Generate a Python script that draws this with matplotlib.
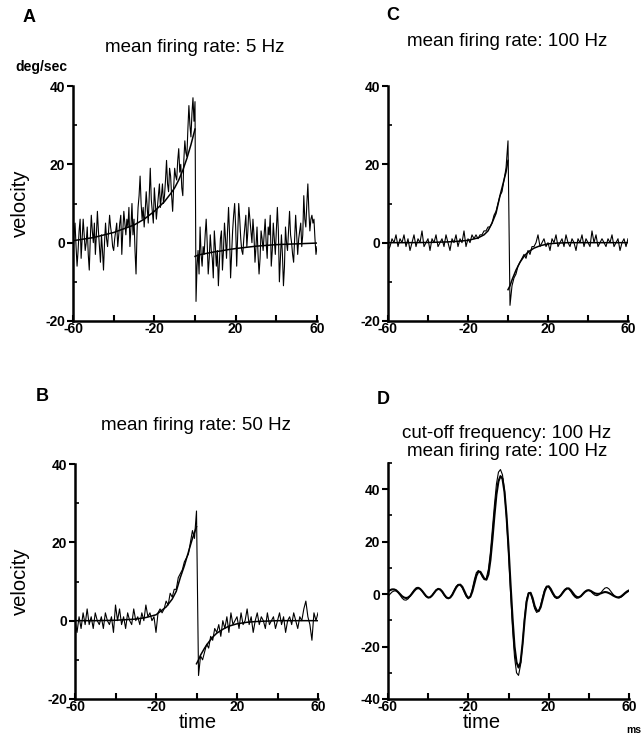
import matplotlib
matplotlib.use("Agg")
import matplotlib.pyplot as plt
from matplotlib.ticker import MultipleLocator, FixedLocator
import numpy as np

plt.rcParams['font.family'] = ['Liberation Sans', 'DejaVu Sans']
plt.rcParams['axes.unicode_minus'] = False

# time axis (ms) of the averages in B, C and D
time_ms = np.arange(-60, 61, 1)
# panel A is sampled twice as finely
time_a = np.arange(-60, 60.5, 0.5)

# panel A, mean firing rate 5 Hz
vel_a = [-3, 2, 5, -1, -6, -2, 3, 6, -4, 1, 6, 2, -2, 0, 4, -3, -7, 1, 7, 3,
         0, 5, -3, 2, 8, 3, -1, -5, 2, -2, -7, 0, 5, 1, -1, 3, 7, 4, 2, -1,
         -2, 1, 3, 5, -1, 2, 5, 7, -3, 3, 8, 5, 2, 6, 4, 9, -1, 4, 10, 2,
         6, -2, -8, 3, 9, 12, 17, 10, 6, 9, 4, 8, 13, 9, 5, 12, 19, 11, 8, 5,
         14, 10, 6, 9, 12, 15, 9, 12, 15, 10, 12, 16, 21, 15, 13, 19, 17, 12, 8, 14,
         19, 17, 16, 21, 24, 18, 20, 14, 12, 21, 26, 23, 22, 29, 35, 30, 27, 33, 37, 31,
         36,
         -15, -6, -2, -8, 4, -3, -6, -1, -3, 2, 6, 0, -8, -4, 2, -2, -4, -9, 3, -1,
         -6, -2, -11, -5, 1, 3, -7, -2, 5, 1, -4, 3, 9, 2, -9, -3, 3, 7, 10, 4,
         -6, 2, 10, 6, 1, -2, -3, 1, 4, 7, -1, 3, 9, 6, 3, 0, 6, 2, -5, -1,
         4, -3, -8, -4, 3, 1, -2, 2, 6, 0, -4, 4, 2, 7, -6, -2, 5, 1, -3, 3,
         9, 3, -10, -4, 2, -3, -11, -6, 4, 0, -2, 3, 8, 2, 0, -3, -5, 1, 7, 2,
         -3, 1, 3, 5, -1, 2, 12, 6, 4, 10, 15, 8, 3, 6, 7, 5, 6, 1, -3, -1]

# panel B, mean firing rate 50 Hz
vel_b = [0, -3, 1, -2, 2, -1, 3, -1, 1, -2, 2, 0, -1, 1, -2, 2, 0, -1, 1, -3,
         4, 0, 3, -1, 1, -2, 2, 0, -1, 3, 0, 1, -1, 2, 0, 4, 1, 2, 0, 1,
         -3, 2, 3, 2, 3, 5, 4, 7, 6, 8, 8, 11, 12, 13, 15, 16, 17, 20, 23, 21,
         28,
         -14, -9, -10, -8, -6, -7, -4, -5, -2, -3, -1, -4, 0, -2, 1, -3, 2, -1, 0, 1,
         -2, 2, -1, 0, 3, -1, 1, -3, 0, 2, -1, 1, 0, -2, 2, -1, 0, 1, -2, 0,
         2, -1, 1, -3, 0, 1, -1, 2, 0, -2, 1, 0, 3, 5, 1, -1, -5, 2, 0, 2]

# panel C, mean firing rate 100 Hz
vel_c = [-2, -1, 1, 0, 2, -1, 1, 0, 2, -1, 1, -2, 0, 2, -1, 1, 0, 3, -1, 0,
         1, -2, 1, 0, 2, -1, 0, 1, -1, 2, 0, -2, 1, 0, 2, -1, 1, 0, 3, -1,
         1, 0, 2, 1, 2, 1, 2, 2, 3, 3, 4, 4, 5, 7, 8, 10, 12, 13, 16, 19,
         26,
         -16, -11, -9, -8, -6, -5, -4, -3, -4, -2, -3, -1, -1, 0, 2, -1, 0, 1, -1, 0,
         -2, 1, 0, 2, -1, 0, 1, -1, 2, 0, -1, 1, 0, -2, 1, 0, 2, -1, 1, 0,
         -1, 3, 0, 2, -1, 0, 1, 0, -1, 1, 0, 2, -1, 0, 1, -2, 0, 1, -1, 1]

# fitted curves, before and after the spike
fit_t_pre = [-60, -50, -40, -30, -25, -20, -15, -12, -10, -8, -6, -4, -2, -1, 0]
fit_t_post = [0, 1, 2, 4, 6, 8, 10, 13, 16, 20, 25, 30, 40, 50, 60]
fit_a_pre = [0.5, 1.3, 2.6, 4.5, 6, 8, 10.5, 12.5, 14, 16, 18.5, 21.5, 25, 27, 29]
fit_a_post = [-3.5, -3.3, -3.1, -2.9, -2.7, -2.5, -2.3, -2.1, -1.8, -1.5, -1.2, -0.9, -0.5, -0.3, -0.1]
fit_b_pre = [0, 0, 0.1, 0.4, 0.8, 1.5, 3.5, 5.5, 7.5, 11, 14, 17.5, 21, 22.5, 24]
fit_b_post = [-11, -10, -8.8, -7, -5.5, -4.2, -3.2, -2.2, -1.4, -0.8, -0.4, -0.2, 0, 0, 0]
fit_c_pre = [0, 0, 0.05, 0.2, 0.35, 0.6, 1.2, 2, 3, 5, 7.5, 12, 16, 18, 21]
fit_c_post = [-12, -11, -9.5, -7, -5, -3.5, -2.4, -1.4, -0.8, -0.3, -0.1, 0, 0, 0, 0]

# panel D, low-pass filtered (100 Hz) stimulus and reconstruction
vel_d1 = [1.0, 1.5, 1.8, 1.8, 1.5, 0.8, 0.0, -0.8, -1.3, -1.5,
          -1.3, -0.7, 0.2, 1.2, 2.0, 2.3, 2.0, 1.2, 0.2, -0.8,
          -1.3, -1.2, -0.5, 0.5, 1.5, 2.0, 1.8, 1.0, -0.2, -1.2,
          -1.6, -1.3, -0.3, 1.2, 2.6, 3.5, 3.6, 2.8, 1.2, -0.5,
          -1.5, -1.0, 1.0, 4.0, 7.0, 8.6, 8.5, 7.2, 5.8, 5.5,
          7.5, 13, 21, 30, 38, 43, 45, 44, 39, 30,
          18,
          4, -9, -20, -26, -28, -26, -19, -10, -3, 0.3,
          0.5, -1.5, -4.5, -6.2, -6.5, -5, -2, 1, 2.8, 3,
          2, 0.5, -0.8, -1.3, -1.2, -0.5, 0.5, 1.5, 2.1, 2.2,
          1.5, 0.5, -0.5, -1.1, -1.2, -0.8, 0.0, 0.8, 1.3, 1.5,
          1.2, 0.7, 0.3, 0.1, 0.1, 0.3, 0.6, 0.8, 0.7, 0.4,
          0.0, -0.5, -0.9, -1.2, -1.2, -0.9, -0.3, 0.4, 1.0, 1.4]
vel_d2 = [-0.8, 0.0, 0.8, 1.2, 1.2, 0.6, -0.4, -1.5, -2.2, -2.3,
          -1.8, -0.8, 0.5, 1.6, 2.4, 2.6, 2.1, 1.1, 0.0, -0.9,
          -1.4, -1.2, -0.4, 0.7, 1.6, 2.0, 1.6, 0.7, -0.5, -1.4,
          -1.7, -1.2, 0.0, 1.6, 3.0, 3.7, 3.4, 2.3, 0.6, -1.0,
          -1.8, -0.8, 2.0, 5.5, 8.2, 9.0, 8.0, 6.5, 5.5, 6.2,
          9.5, 16, 25, 34, 42, 46.5, 47.5, 45.5, 39.5, 29,
          16,
          1, -13, -24, -30, -31, -27, -19, -9, -2, 0.5,
          0.2, -2.5, -5.5, -7.0, -6.5, -4.2, -1.0, 1.8, 3.0, 2.7,
          1.4, 0.0, -1.2, -1.7, -1.4, -0.5, 0.8, 1.8, 2.3, 2.0,
          1.0, -0.2, -1.1, -1.6, -1.4, -0.8, 0.2, 1.0, 1.5, 1.5,
          1.0, 0.2, -0.4, -0.6, -0.3, 0.5, 1.5, 2.3, 2.5, 2.0,
          1.0, 0.0, -0.8, -1.3, -1.5, -1.2, -0.6, 0.1, 0.7, 1.1]

x_ticks = [-60, -40, -20, 0, 20, 40, 60]
x_labels = ['-60', '', '-20', '', '20', '', '60']

W, H = 644, 740


def _px_axes(fig, left, top, right, bottom):
    return fig.add_axes([left / W, 1 - bottom / H, (right - left) / W, (bottom - top) / H])


def _style(ax, ylim, yticks):
    ax.set_xlim(-60, 60)
    ax.set_ylim(*ylim)
    for side in ('top', 'right'):
        ax.spines[side].set_visible(False)
    for side in ('left', 'bottom'):
        ax.spines[side].set_linewidth(1.8)
    ax.xaxis.set_major_locator(FixedLocator(x_ticks))
    ax.set_xticklabels(x_labels)
    ax.yaxis.set_major_locator(FixedLocator(yticks))
    ax.yaxis.set_minor_locator(MultipleLocator(10))
    ax.tick_params(axis='x', direction='in', length=4, width=1.5, pad=1,
                   labelsize=10)
    ax.tick_params(axis='y', which='major', direction='out', length=4, width=1.5,
                   pad=1.5, labelsize=10)
    ax.tick_params(axis='y', which='minor', direction='in', length=3, width=1.2)
    for lab in ax.get_xticklabels() + ax.get_yticklabels():
        lab.set_fontweight('bold')


def _noisy_panel(ax, t, vel, fit_pre, fit_post):
    ax.plot(t, vel, color='black', lw=0.8)
    ax.plot(fit_t_pre, fit_pre, color='black', lw=1.1)
    ax.plot(fit_t_post, fit_post, color='black', lw=1.1)
    _style(ax, (-20, 40), [-20, 0, 20, 40])


fig = plt.figure(figsize=(W / 100, H / 100), dpi=100)

ax_a = _px_axes(fig, 73, 86, 317, 321)
_noisy_panel(ax_a, time_a, vel_a, fit_a_pre, fit_a_post)
ax_b = _px_axes(fig, 75, 464, 318, 699)
_noisy_panel(ax_b, time_ms, vel_b, fit_b_pre, fit_b_post)
ax_c = _px_axes(fig, 388, 86, 628, 321)
_noisy_panel(ax_c, time_ms, vel_c, fit_c_pre, fit_c_post)

ax_d = _px_axes(fig, 388, 463, 629, 699)
ax_d.plot(time_ms, vel_d2, color='black', lw=0.8)
ax_d.plot(time_ms, vel_d1, color='black', lw=1.5)
_style(ax_d, (-40, 50), [-40, -20, 0, 20, 40])


def _txt(x, y, s, **kw):
    fig.text(x / W, 1 - y / H, s, ha='center', va='center', **kw)


_txt(29, 18, 'A', fontsize=13, fontweight='bold')
_txt(393, 16, 'C', fontsize=13, fontweight='bold')
_txt(42, 397, 'B', fontsize=13, fontweight='bold')
_txt(383, 400, 'D', fontsize=13, fontweight='bold')

_txt(195, 47, 'mean firing rate: 5 Hz', fontsize=13.5)
_txt(507, 42, 'mean firing rate: 100 Hz', fontsize=13.5)
_txt(196, 425, 'mean firing rate: 50 Hz', fontsize=13.5)
_txt(507, 433, 'cut-off frequency: 100 Hz', fontsize=13.5)
_txt(507, 451, 'mean firing rate: 100 Hz', fontsize=13.5)

_txt(41, 67, 'deg/sec', fontsize=10, fontweight='bold')
_txt(20, 203, 'velocity', fontsize=14.5, rotation=90)
_txt(20, 581, 'velocity', fontsize=14.5, rotation=90)
_txt(198, 723, 'time', fontsize=14.5)
_txt(482, 723, 'time', fontsize=14.5)
_txt(634, 730, 'ms', fontsize=7.5, fontweight='bold')

fig.savefig('out.png', dpi=100)
plt.close(fig)
